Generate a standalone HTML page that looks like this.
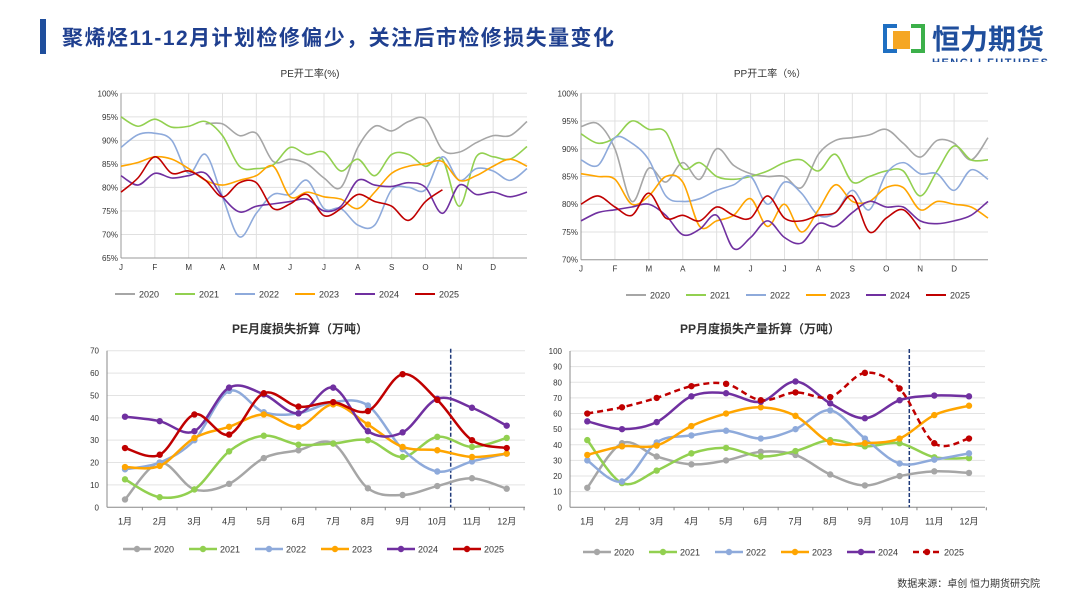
<!DOCTYPE html>
<html><head><meta charset="utf-8"><style>
body{margin:0;background:#fff;width:1080px;height:608px;overflow:hidden;font-family:"Liberation Sans","Noto Sans CJK SC",sans-serif}
svg text{font-family:"Liberation Sans","Noto Sans CJK SC",sans-serif}
</style></head><body>
<svg id="s" width="1080" height="608" xmlns="http://www.w3.org/2000/svg">
<defs><clipPath id="lc"><rect x="925" y="50" width="130" height="12"/></clipPath></defs>
<rect x="40" y="19" width="6" height="35" fill="#1f4e9c"/>
<text x="62" y="45" font-size="21" font-weight="bold" fill="#1f3f8f" textLength="552">聚烯烃11-12月计划检修偏少，关注后市检修损失量变化</text>
<g>
<rect x="883" y="24" width="14" height="29" fill="#1f6fc2"/>
<rect x="887" y="28" width="10" height="21" fill="#fff"/>
<rect x="911" y="24" width="14" height="29" fill="#3cb04a"/>
<rect x="911" y="28" width="10" height="21" fill="#fff"/>
<rect x="893" y="31" width="17" height="18" fill="#f5a623"/>
<text x="932" y="49" font-size="28" font-weight="bold" fill="#1f4e9c">恒力期货</text>
<text x="932" y="66" font-size="11" font-weight="bold" fill="#1f4e9c" textLength="116" clip-path="url(#lc)">HENGLI FUTURES</text>
</g>
<text x="310" y="77" font-size="10" text-anchor="middle" fill="#333">PE开工率(%)</text>
<text x="770" y="77" font-size="10" text-anchor="middle" fill="#333">PP开工率（%）</text>
<text x="300" y="333" font-size="12" font-weight="bold" text-anchor="middle" fill="#333">PE月度损失折算（万吨）</text>
<text x="760" y="333" font-size="12" font-weight="bold" text-anchor="middle" fill="#333">PP月度损失产量折算（万吨）</text>
<text x="1040" y="587" font-size="10" text-anchor="end" fill="#333">数据来源：卓创  恒力期货研究院</text>
<g id="c1"></g>
<g id="c2"></g>
<g id="c3"></g>
<g id="c4"></g>
</svg>
<script>
const years=["2020","2021","2022","2023","2024","2025"];
const colors=["#a6a6a6","#92d050","#8eaadb","#ffa500","#7030a0","#c00000"];
const monthLetters=["J","F","M","A","M","J","J","A","S","O","N","D"];
const monthCn=["1月","2月","3月","4月","5月","6月","7月","8月","9月","10月","11月","12月"];
const peTicks=["65%","70%","75%","80%","85%","90%","95%","100%"];
const ppTicks=["70%","75%","80%","85%","90%","95%","100%"];
const N=null;
const pe2020=[N,N,N,N,N,93.5,93.5,91,91.5,85.5,86,85,82,80,88.5,93,92,94,94.5,88,87.5,89.5,91,91,94];
const pe2021=[95,93,94.5,92.8,93,94,91,84.5,84,84.8,88.5,87,87.5,83.5,86,82.5,87,87,84.5,86,76,86.5,86.5,86,88.7];
const pe2022=[88.5,91.2,91.5,90,83,87,78,69.5,74.5,78.5,78.5,81.5,75.5,75.5,72,72,79.5,80,79.5,86.5,81.5,84,83.5,81.5,84];
const pe2023=[84.5,85.3,86.5,86,84,81.5,80.5,81.5,82.5,84.5,78,79,78,77.5,75.5,79,83,84.5,85,85.5,81.5,82.5,84.5,86,84.5];
const pe2024=[82.5,80.5,83,82,82.5,83,78,74.8,76,76.5,77,77.5,75,76,81.5,80.5,80.2,81,80,74.5,80.5,78.5,79,78,79];
const pe2025=[79,82,86.5,83,83.5,81.5,78,81,81,75.5,76.5,78.5,74,75.5,78.5,77,76,73,77,79.5,N,N,N,N,N];
const pp2020=[94,94.5,90,80.5,86.5,84,87.5,84.5,90,87,85.5,85,85,83,89,91.5,92,92.5,93.5,91,88.5,91.5,91,88,92];
const pp2021=[92.7,91,92,95,93.5,93,86.5,87.5,85,84.5,85,86,87.5,88,86,89,84,85,86,86,81.5,86,90.5,88,88];
const pp2022=[88,87,92,91,88,81.5,80.5,81,82.5,83.5,85,80,84,82,78,78.5,82.5,79,85.5,87.5,85.5,85.5,82.5,86.2,84.5];
const pp2023=[85.5,85,84.5,80,81.5,85,84,76,77,78,81,76,80,75,79,83.5,80.5,80.5,83,83,79,80.5,80,79.5,77.5];
const pp2024=[77,78.5,79,79.5,80,78,74.5,75.5,78,72,74,77,74,73,76.5,76,78.5,80.5,79.5,79.5,77,76.5,77,78,80.5];
const pp2025=[80,81.5,79.5,78,82,77.5,78,77,79.5,78,77.5,81.5,77.5,77,78,78.5,81.5,75,77.5,79,75.5,N,N,N,N];
const peLoss2020=[3.5,20,8,10.5,22,25.5,28.5,8.5,5.5,9.5,13,8.3];
const peLoss2021=[12.5,4.5,8,25,32,28,28.5,30,22.5,31.5,27,31];
const peLoss2022=[17,20,30,52,42.5,42,47,45.5,26,16,20.5,24];
const peLoss2023=[18,18.5,31,36,41.5,36,46,37,27,25.5,22.5,24];
const peLoss2024=[40.5,38.5,34,53.5,50.5,42,53.5,34,33.5,48.5,44.5,36.5];
const peLoss2025=[26.5,23.5,41.5,32.5,51,45,47,43,59.5,48,30,26.5];
const ppLoss2020=[12.5,41,32.5,27.5,30,35.5,33.5,21,14,20,23,22];
const ppLoss2021=[43,15.5,23.5,34.5,38,32.5,36,43,39,41,32,31.5];
const ppLoss2022=[30,16.5,41.5,46,49,44,50,62,44,28,30.5,34.5];
const ppLoss2023=[33.5,39,39.5,52,60,64,58.5,41.5,41,44,59,65];
const ppLoss2024=[55,50,54.5,71,73,67.5,80.5,66.5,57,68.5,71.5,71];
const ppLoss2025=[60,64,70,77.5,79,68.5,73.5,70.5,86,76,41,44];
const NS="http://www.w3.org/2000/svg";
function mk(p,t,a){const e=document.createElementNS(NS,t);for(const k in a)e.setAttribute(k,a[k]);p.appendChild(e);return e;}
function smooth(pts){let d="";let segs=[],cur=[];pts.forEach(p=>{if(p)cur.push(p);else{if(cur.length)segs.push(cur);cur=[];}});if(cur.length)segs.push(cur);
segs.forEach(s=>{d+="M"+s[0][0]+","+s[0][1];for(let i=0;i<s.length-1;i++){const p0=s[i-1]||s[i],p1=s[i],p2=s[i+1],p3=s[i+2]||p2;const t=6;
d+=" C"+(p1[0]+(p2[0]-p0[0])/t)+","+(p1[1]+(p2[1]-p0[1])/t)+" "+(p2[0]-(p3[0]-p1[0])/t)+","+(p2[1]-(p3[1]-p1[1])/t)+" "+p2[0]+","+p2[1];}});return d;}
function rateChart(g,o,series,ticks){
 const sx=i=>o.x0+(o.x1-o.x0)*i/24, sy=v=>o.yb-(v-o.vmin)/(o.vmax-o.vmin)*(o.yb-o.yt);
 ticks.forEach((t,k)=>{const v=o.vmin+k*5,y=sy(v);const l=mk(g,"line",{x1:o.x0,x2:o.x1,y1:y,y2:y,stroke:"#e0e0e0","stroke-width":1});
  
  const tx=mk(g,"text",{x:o.x0-3,y:y+3,"font-size":8,"text-anchor":"end",fill:"#333"});tx.textContent=t;
  });
 monthLetters.forEach((m,k)=>{const x=sx(k*2);const l=mk(g,"line",{x1:x,x2:x,y1:o.yt,y2:o.yb,stroke:"#e0e0e0","stroke-width":1});
  
  const tx=mk(g,"text",{x:x,y:o.yb+12,"font-size":8,"text-anchor":"middle",fill:"#333"});tx.textContent=m;
  });
 const ax=mk(g,"line",{x1:o.x0,x2:o.x1,y1:o.yb,y2:o.yb,stroke:"#999"});
 const ay=mk(g,"line",{x1:o.x0,x2:o.x0,y1:o.yt,y2:o.yb,stroke:"#999"});
 series.forEach((s,k)=>{const p=mk(g,"path",{d:smooth(s.map((v,i)=>v==null?null:[sx(i),sy(v)])),fill:"none",stroke:colors[k],"stroke-width":1.6});
  });
 years.forEach((y,k)=>{const lx=o.lx+k*60;const l=mk(g,"line",{x1:lx,x2:lx+20,y1:o.ly,y2:o.ly,stroke:colors[k],"stroke-width":2});
  
  const t=mk(g,"text",{x:lx+24,y:o.ly+3.5,"font-size":9,fill:"#333"});t.textContent=y;
  });
}
function lossChart(g,o,series,dashLast){
 const sx=i=>o.c0+o.dx*i, sy=v=>o.yb-v/o.vmax*(o.yb-o.yt);
 for(let v=0;v<=o.vmax;v+=10){const y=sy(v);
  if(v>0){const l=mk(g,"line",{x1:o.x0,x2:o.x1,y1:y,y2:y,stroke:"#e3e3e3"});}
  const t=mk(g,"text",{x:o.x0-8,y:y+3,"font-size":8,"text-anchor":"end",fill:"#333"});t.textContent=v;
  }
 const ax=mk(g,"line",{x1:o.x0,x2:o.x1,y1:o.yb,y2:o.yb,stroke:"#888"});
 const ay=mk(g,"line",{x1:o.x0,x2:o.x0,y1:o.yt,y2:o.yb,stroke:"#888"});
 monthCn.forEach((m,k)=>{const x=sx(k);const tk=mk(g,"line",{x1:x+o.dx/2,x2:x+o.dx/2,y1:o.yb,y2:o.yb+3,stroke:"#888"});
  
  const t=mk(g,"text",{x:x,y:o.yb+17,"font-size":9,"text-anchor":"middle",fill:"#333"});t.textContent=m;
  });
 const dl=mk(g,"line",{x1:o.dash,x2:o.dash,y1:o.yt-2,y2:o.yb,stroke:"#1f3a7a","stroke-width":1.5,"stroke-dasharray":"4,2"});
 
 series.forEach((s,k)=>{const pts=s.map((v,i)=>[sx(i),sy(v)]);const dash=(dashLast&&k==5);
  const p=mk(g,"path",{d:smooth(pts),fill:"none",stroke:colors[k],"stroke-width":2.5});if(dash)p.setAttribute("stroke-dasharray","6,4");
  
  pts.forEach(q=>{const c=mk(g,"circle",{cx:q[0],cy:q[1],r:3.2,fill:colors[k]});});});
 years.forEach((y,k)=>{const lx=o.lx+k*66;const l=mk(g,"line",{x1:lx,x2:lx+28,y1:o.ly,y2:o.ly,stroke:colors[k],"stroke-width":2.5});
  if(dashLast&&k==5)l.setAttribute("stroke-dasharray","6,4");
  
  const c=mk(g,"circle",{cx:lx+14,cy:o.ly,r:3.2,fill:colors[k]});
  const t=mk(g,"text",{x:lx+31,y:o.ly+3.5,"font-size":9,fill:"#333"});t.textContent=y;
  });
}
rateChart(document.getElementById("c1"),{x0:121,x1:527,yt:93.3,yb:258,vmin:65,vmax:100,lx:115,ly:294},[pe2020,pe2021,pe2022,pe2023,pe2024,pe2025],peTicks);
rateChart(document.getElementById("c2"),{x0:581,x1:988,yt:93.3,yb:259.7,vmin:70,vmax:100,lx:626,ly:295},[pp2020,pp2021,pp2022,pp2023,pp2024,pp2025],ppTicks);
lossChart(document.getElementById("c3"),{x0:107,x1:525,yt:350.7,yb:507.3,vmax:70,c0:125,dx:34.7,dash:450.7,lx:123,ly:549},[peLoss2020,peLoss2021,peLoss2022,peLoss2023,peLoss2024,peLoss2025],false);
lossChart(document.getElementById("c4"),{x0:570,x1:985,yt:351,yb:507.3,vmax:100,c0:587.3,dx:34.7,dash:909.3,lx:583,ly:552},[ppLoss2020,ppLoss2021,ppLoss2022,ppLoss2023,ppLoss2024,ppLoss2025],true);
</script>
</body></html>
